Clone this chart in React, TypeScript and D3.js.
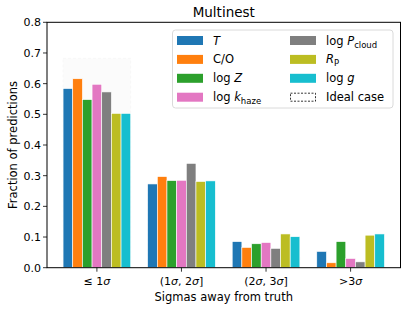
import React from 'react';
import * as d3 from 'd3';

// bins of the error distribution
const categories = ['≤1σ', '(1σ,2σ]', '(2σ,3σ]', '>3σ'];

// fraction of predictions per parameter
const seriesT = [0.584, 0.273, 0.085, 0.053];
const seriesCO = [0.616, 0.297, 0.066, 0.016];
const seriesLogZ = [0.548, 0.284, 0.078, 0.085];
const seriesLogK = [0.598, 0.285, 0.082, 0.030];
const seriesLogP = [0.573, 0.340, 0.063, 0.019];
const seriesRp = [0.503, 0.281, 0.110, 0.106];
const seriesLogG = [0.503, 0.283, 0.101, 0.110];

// gaussian expectation
const idealCase = [0.6827, 0.2718, 0.0428, 0.0027];

const yTicks = [0, 0.1, 0.2, 0.3, 0.4, 0.5, 0.6, 0.7, 0.8];

const series = [
  { key: 'T', values: seriesT, color: '#1f77b4' },
  { key: 'CO', values: seriesCO, color: '#ff7f0e' },
  { key: 'logZ', values: seriesLogZ, color: '#2ca02c' },
  { key: 'logK', values: seriesLogK, color: '#e377c2' },
  { key: 'logP', values: seriesLogP, color: '#7f7f7f' },
  { key: 'Rp', values: seriesRp, color: '#bcbd22' },
  { key: 'logG', values: seriesLogG, color: '#17becf' },
];

const W = 407;
const H = 309;
const m = { left: 47, right: 400.5, top: 22.3, bottom: 267.7 };
const font = 'DejaVu Sans, sans-serif';

function TickLabel({ i }: { i: number }) {
  const it = { fontStyle: 'italic' as const };
  if (i === 0) return <>≤ 1<tspan {...it}>σ</tspan></>;
  if (i === 1) return <>(1<tspan {...it}>σ</tspan>, 2<tspan {...it}>σ</tspan>]</>;
  if (i === 2) return <>(2<tspan {...it}>σ</tspan>, 3<tspan {...it}>σ</tspan>]</>;
  return <>&gt;3<tspan {...it}>σ</tspan></>;
}

function LegendLabel({ k }: { k: string }) {
  const it = { fontStyle: 'italic' as const };
  const sub = { fontSize: 8.5 };
  switch (k) {
    case 'T': return <tspan {...it}>T</tspan>;
    case 'CO': return <>C/O</>;
    case 'logZ': return <>log <tspan {...it}>Z</tspan></>;
    case 'logK': return <>log <tspan {...it}>k</tspan><tspan {...sub} dy={3}>haze</tspan></>;
    case 'logP': return <>log <tspan {...it}>P</tspan><tspan {...sub} dy={3}>cloud</tspan></>;
    case 'Rp': return <><tspan {...it}>R</tspan><tspan {...sub} dy={3}>P</tspan></>;
    case 'logG': return <>log <tspan {...it}>g</tspan></>;
    default: return <>Ideal case</>;
  }
}

export default function App() {
  const x = d3.scaleLinear().domain([-0.59, 3.59]).range([m.left, m.right]);
  const y = d3.scaleLinear().domain([0, 0.8]).range([m.bottom, m.top]);
  const groupW = 0.8;
  const barW = groupW / series.length;

  const legendRows = [
    { key: 'T', col: 0, row: 0 },
    { key: 'CO', col: 0, row: 1 },
    { key: 'logZ', col: 0, row: 2 },
    { key: 'logK', col: 0, row: 3 },
    { key: 'logP', col: 1, row: 0 },
    { key: 'Rp', col: 1, row: 1 },
    { key: 'logG', col: 1, row: 2 },
    { key: 'ideal', col: 1, row: 3 },
  ];
  const colorOf = (k: string) => series.find(s => s.key === k)?.color;

  return (
    <svg width={W} height={H} style={{ position: 'absolute', left: 0, top: 0 }} fontFamily={font}>
      <rect width={W} height={H} fill="#fff" />
      {/* ideal case, very faint */}
      {idealCase.map((v, i) => (
        <rect key={'id' + i}
          x={x(i - groupW / 2)} y={y(v)}
          width={x(groupW) - x(0)} height={y(0) - y(v)}
          fill="#000" fillOpacity={0.015}
          stroke="#000" strokeOpacity={0.04} strokeDasharray="3,2" strokeWidth={0.8} />
      ))}
      {series.map((s, j) => (
        <g key={s.key}>
          {s.values.map((v, i) => {
            const x0 = i - groupW / 2 + j * barW;
            return (
              <rect key={i} x={x(x0)} y={y(v)} width={x(barW) - x(0)} height={y(0) - y(v)}
                fill={s.color} stroke="#fff" strokeWidth={0.6} />
            );
          })}
        </g>
      ))}
      {/* axes frame */}
      <rect x={m.left} y={m.top} width={m.right - m.left} height={m.bottom - m.top}
        fill="none" stroke="#000" strokeWidth={1} />
      {yTicks.map(t => (
        <g key={t}>
          <line x1={m.left - 4} x2={m.left} y1={y(t)} y2={y(t)} stroke="#000" strokeWidth={0.8} />
          <text x={m.left - 6} y={y(t)} dy="0.35em" textAnchor="end" fontSize={11}>{t.toFixed(1)}</text>
        </g>
      ))}
      {categories.map((c, i) => (
        <g key={c}>
          <line x1={x(i)} x2={x(i)} y1={m.bottom} y2={m.bottom + 4} stroke="#000" strokeWidth={0.8} />
          <text x={x(i)} y={m.bottom + 17} textAnchor="middle" fontSize={11}><TickLabel i={i} /></text>
        </g>
      ))}
      <text x={(m.left + m.right) / 2} y={301} textAnchor="middle" fontSize={11.5}>Sigmas away from truth</text>
      <text transform={`translate(17,${(m.top + m.bottom) / 2}) rotate(-90)`} textAnchor="middle" fontSize={11.5}>Fraction of predictions</text>
      <text x={(m.left + m.right) / 2} y={17} textAnchor="middle" fontSize={13.5}>Multinest</text>
      {/* legend */}
      <rect x={172.5} y={30} width={220.5} height={78} rx={3} fill="#fff" fillOpacity={0.8}
        stroke="#d0d0d0" strokeWidth={0.8} />
      {legendRows.map(r => {
        const sx = r.col === 0 ? 177 : 290;
        const cy = 40.5 + r.row * 18.9;
        const col = colorOf(r.key);
        return (
          <g key={r.key}>
            {col ? (
              <rect x={sx} y={cy - 4.5} width={26} height={9} fill={col} />
            ) : (
              <rect x={sx + 0.5} y={cy - 4} width={25} height={8} fill="none" stroke="#000"
                strokeWidth={0.8} strokeDasharray="2,1.5" />
            )}
            <text x={sx + 36} y={cy} dy="0.35em" fontSize={11.5}><LegendLabel k={r.key} /></text>
          </g>
        );
      })}
    </svg>
  );
}
